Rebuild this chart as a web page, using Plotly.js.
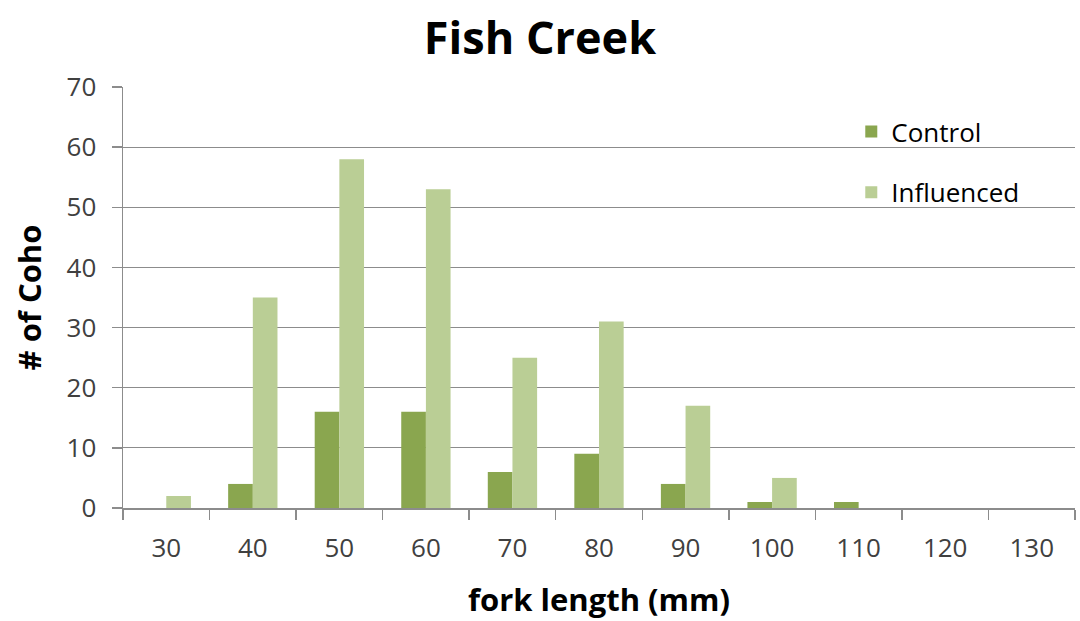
<!DOCTYPE html>
<html>
<head>
<meta charset="utf-8">
<script src="https://cdn.plot.ly/plotly-3.0.1.min.js"></script>
<style>html,body{margin:0;padding:0;background:#fff;}#chart{width:1080px;height:621px;}</style>
</head>
<body>
<div id="chart"></div>
<script>
const forkLengths = ["30", "40", "50", "60", "70", "80", "90", "100", "110", "120", "130"];
const controlCounts = [0, 4, 16, 16, 6, 9, 4, 1, 1, 0, 0];
const influencedCounts = [2, 35, 58, 53, 25, 31, 17, 5, 0, 0, 0];
const yTicks = [0, 10, 20, 30, 40, 50, 60, 70];

const FONT = "Open Sans, Noto Sans, sans-serif";

const traces = [
  {type: "bar", name: "Control", x: forkLengths, y: controlCounts,
   marker: {color: "#8AA64F"}, legendgroup: "a"},
  {type: "bar", name: "Influenced", x: forkLengths, y: influencedCounts,
   marker: {color: "#BACE95"}, legendgroup: "b"}
];

const layout = {
  width: 1080, height: 621,
  margin: {l: 123, r: 5, t: 87, b: 113},
  paper_bgcolor: "#fff", plot_bgcolor: "#fff",
  font: {family: FONT, color: "#404040", size: 26},
  title: {text: "<b>Fish Creek</b>", x: 0.5, xanchor: "center", y: 0.938, yanchor: "middle",
          font: {family: FONT, size: 45, color: "#000"}},
  barmode: "group", bargap: 0.43, bargroupgap: 0,
  showlegend: true,
  legend: {x: 0.765, xanchor: "left", y: 0.95, yanchor: "top", bgcolor: "rgba(0,0,0,0)",
           font: {family: FONT, size: 26, color: "#000"}, tracegroupgap: 24, traceorder: "grouped"},
  xaxis: {type: "category", tickvals: forkLengths, showline: true, linecolor: "#8c8c8c", linewidth: 1.5,
          ticks: "outside", tickson: "boundaries", ticklen: 10, tickcolor: "#8c8c8c", tickwidth: 1.5,
          ticklabelstandoff: 16,
          showgrid: false, tickfont: {family: FONT, size: 26, color: "#404040"},
          title: {text: "<b>fork length (mm)</b>", standoff: 25, font: {family: FONT, size: 31, color: "#000"}}},
  yaxis: {range: [0, 70], tickvals: yTicks, showline: true, linecolor: "#8c8c8c", linewidth: 1.5,
          ticks: "outside", ticklen: 10, tickcolor: "#8c8c8c", tickwidth: 1.5,
          ticklabelstandoff: 10,
          showgrid: true, gridcolor: "#8c8c8c", gridwidth: 1.2, zeroline: false,
          tickfont: {family: FONT, size: 26, color: "#404040"},
          title: {text: "<b># of Coho</b>", standoff: 15, font: {family: FONT, size: 31, color: "#000"}}}
};

Plotly.newPlot("chart", traces, layout, {displayModeBar: false, staticPlot: true});
</script>
</body>
</html>
